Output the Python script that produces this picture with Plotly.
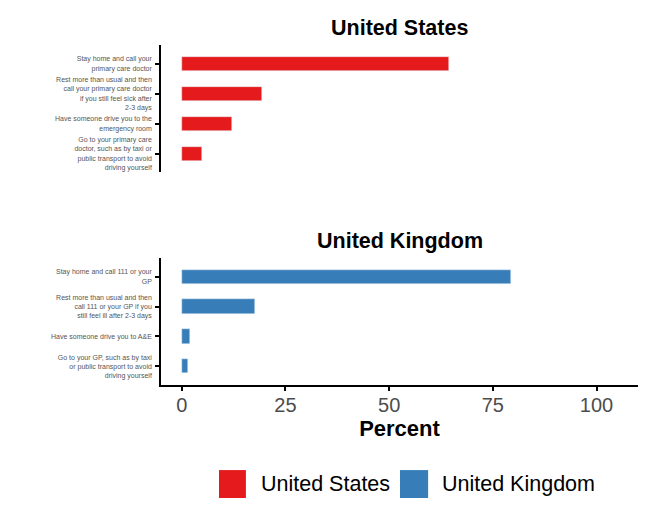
import plotly.graph_objects as go

# data
us_labels = [
    "Stay home and call your<br>primary care doctor",
    "Rest more than usual and then<br>call your primary care doctor<br>if you still feel sick after<br>2-3 days",
    "Have someone drive you to the<br>emergency room",
    "Go to your primary care<br>doctor, such as by taxi or<br>public transport to avoid<br>driving yourself",
]
us_values = [64.4, 19.3, 12.0, 4.8]

uk_labels = [
    "Stay home and call 111 or your<br>GP",
    "Rest more than usual and then<br>call 111 or your GP if you<br>still feel ill after 2-3 days",
    "Have someone drive you to A&E",
    "Go to your GP, such as by taxi<br>or public transport to avoid<br>driving yourself",
]
uk_values = [79.5, 17.6, 2.0, 1.5]

x_ticks = [0, 25, 50, 75, 100]

RED = "#E41A1C"
BLUE = "#377EB8"
FONT = "Liberation Sans, Arial, sans-serif"

fig = go.Figure()
fig.add_trace(go.Bar(x=us_values, y=us_labels, orientation="h", marker_color=RED,
                     width=0.47, xaxis="x", yaxis="y", showlegend=False))
fig.add_trace(go.Bar(x=uk_values, y=uk_labels, orientation="h", marker_color=BLUE,
                     width=0.47, xaxis="x2", yaxis="y2", showlegend=False))

ytick = dict(size=7, color="#555555", family=FONT)
yaxis_common = dict(
    type="category", range=[3.62, -0.62], showgrid=False, zeroline=False,
    showline=True, linecolor="black", linewidth=1.5,
    ticks="outside", ticklen=4, tickcolor="black", tickwidth=1.5,
    tickfont=ytick, ticklabelstandoff=2,
)

# page body has an 8px margin, so the margins are shifted to compensate
fig.update_layout(
    width=649, height=519,
    margin=dict(l=153, r=19, t=2, b=18),
    plot_bgcolor="white", paper_bgcolor="white",
    bargap=0,
    xaxis=dict(domain=[0, 1], anchor="y", range=[-5, 110], visible=False),
    yaxis=dict(domain=[0.675, 0.930], anchor="x", categoryorder="array",
               categoryarray=us_labels, **yaxis_common),
    xaxis2=dict(domain=[0, 1], anchor="y2", range=[-5, 110], showgrid=False, zeroline=False,
                showline=True, linecolor="black", linewidth=1.5,
                ticks="outside", ticklen=4, tickcolor="black", tickwidth=1.5,
                tickvals=x_ticks, tickfont=dict(size=20, color="#4D4D4D", family=FONT),
                ticklabelstandoff=-3,
                title=dict(text="<b>Percent</b>", font=dict(size=22, color="black", family=FONT),
                           standoff=0)),
    yaxis2=dict(domain=[0.2485, 0.503], anchor="x2", categoryorder="array",
                categoryarray=uk_labels, **yaxis_common),
)

# panel titles
for txt, yy in [("United States", 0.964), ("United Kingdom", 0.537)]:
    fig.add_annotation(text=f"<b>{txt}</b>", x=0.5, y=yy, xref="paper", yref="paper",
                       xanchor="center", yanchor="middle", showarrow=False,
                       font=dict(size=21.5, color="black", family=FONT))

# legend drawn by hand (large keys)
for name, col, x0, x1, xt in [("United States", RED, 0.1216, 0.178, 0.2055),
                              ("United Kingdom", BLUE, 0.501, 0.560, 0.585)]:
    fig.add_shape(type="rect", xref="paper", yref="paper", x0=x0, x1=x1, y0=0.022, y1=0.078,
                  fillcolor=col, line=dict(width=0))
    fig.add_annotation(text=name, x=xt, y=0.05, xref="paper", yref="paper",
                       xanchor="left", yanchor="middle", showarrow=False,
                       font=dict(size=21.5, color="black", family=FONT))

fig.write_html("out.html")
